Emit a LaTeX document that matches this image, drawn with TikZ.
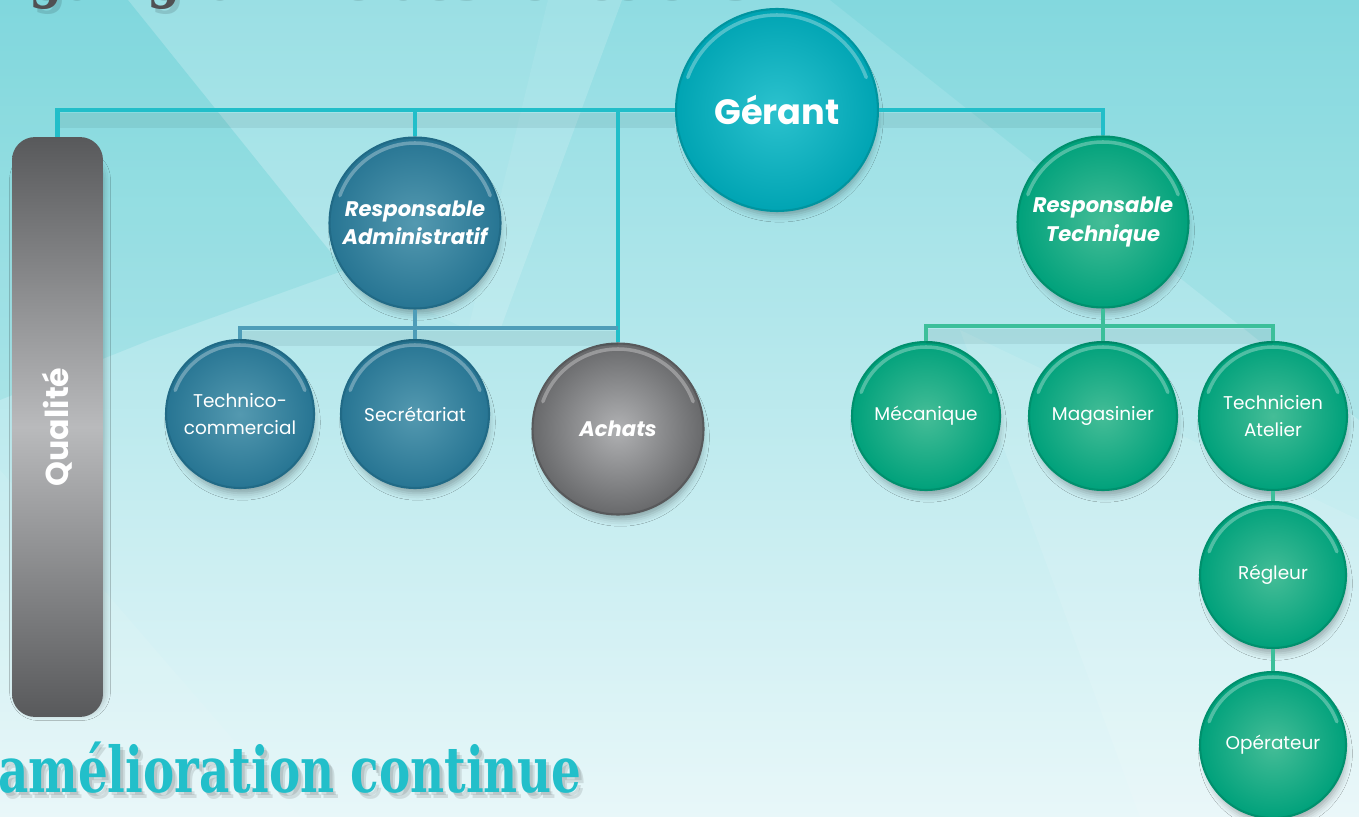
\documentclass[tikz,border=0pt]{standalone}
\usepackage{fontspec}
\setmainfont{Poppins}
\newfontfamily\slabfont{DejaVu Serif}
\usetikzlibrary{shadows.blur,calc}

\definecolor{bgtop}{HTML}{8FDCE2}
\definecolor{bgbot}{HTML}{E8F7F9}
\definecolor{busCyan}{HTML}{22BEC9}
\definecolor{busBlue}{HTML}{4E9DB8}
\definecolor{busGreen}{HTML}{3CBF9A}
\definecolor{gerIn}{HTML}{2CC2CE}
\definecolor{gerOut}{HTML}{00A4B3}
\definecolor{gerRim}{HTML}{00949F}
\definecolor{admIn}{HTML}{5499B0}
\definecolor{admOut}{HTML}{277593}
\definecolor{admRim}{HTML}{216A86}
\definecolor{grnIn}{HTML}{45BD97}
\definecolor{grnOut}{HTML}{00A17B}
\definecolor{grnRim}{HTML}{00906D}
\definecolor{gryIn}{HTML}{B0B1B3}
\definecolor{gryOut}{HTML}{68696B}
\definecolor{gryRim}{HTML}{58595B}
\definecolor{barDark}{HTML}{58595B}
\definecolor{barLight}{HTML}{B9BABC}
\definecolor{slabCyan}{HTML}{22BFCA}
\definecolor{titleGray}{HTML}{505153}

\tikzset{
  dropshade/.style={blur shadow={shadow xshift=1.5pt, shadow yshift=-5pt,
      shadow scale=0.96, shadow blur radius=4pt, shadow opacity=30}},
  bubble/.style n args={3}{circle, inner sep=0pt, align=center, text=white,
    draw=#1, line width=1.2pt, shading=radial, inner color=#2, outer color=#3,
    dropshade},
  gerbubble/.style={bubble={gerRim}{gerIn}{gerOut}, minimum size=4.04cm,
    font=\bfseries\fontsize{20}{24}\selectfont},
  headbubble/.style={bubble={#1Rim}{#1In}{#1Out}, minimum size=3.42cm,
    font=\bfseries\itshape\fontsize{12}{16}\selectfont},
  subbubble/.style={bubble={#1Rim}{#1In}{#1Out}, minimum size=2.96cm,
    font=\fontsize{10.5}{15}\selectfont},
  gloss/.style={draw=white, draw opacity=0.3, line width=2pt, line cap=round},
  topbus/.style={draw=busCyan, line width=2.8pt},
  admbus/.style={draw=busBlue, line width=2.8pt},
  grnbus/.style={draw=busGreen, line width=2.8pt},
  lineshade/.style={draw=black!70!teal, draw opacity=0.07, line width=9pt},
}
% thin shine along the upper rim of a bubble
\newcommand\shine[2]{\draw[gloss] ([shift={(160:#2)}]#1.center) arc[start angle=160,end angle=20,radius=#2];}

\begin{document}
\begin{tikzpicture}[x=0.02cm,y=-0.02cm]
  % canvas
  \useasboundingbox (0,0) rectangle (1359,817);
  \shade[top color=bgtop, bottom color=bgbot] (0,0) rectangle (1359,817);
  % soft light facets of the backdrop
  \fill[teal!60!cyan, opacity=0.10] (0,0) -- (128,0) -- (345,270) -- (150,340) -- (0,400) -- cycle;
  \fill[white, opacity=0.16] (548,0) -- (622,0) -- (500,330) -- (468,330) -- cycle;
  \fill[white, opacity=0.10] (128,0) -- (548,0) -- (468,330) -- (345,270) -- cycle;
  \fill[teal!60!cyan, opacity=0.08] (830,0) -- (1359,0) -- (1359,420) -- cycle;
  \fill[white, opacity=0.10] (960,330) -- (1359,520) -- (1359,817) -- (1140,817) -- cycle;
  \fill[white, opacity=0.08] (0,470) -- (300,817) -- (0,817) -- cycle;

  % heading, mostly above the canvas
  \begin{scope}
    \clip (0,0) rectangle (1359,40);
    \node[anchor=base west, inner sep=0pt, text=black, opacity=0.12] at (-34,1)
      {\slabfont\bfseries\fontsize{36}{40}\selectfont\scalebox{0.76}[1]{Organigramme des fonctions}};
    \node[anchor=base west, inner sep=0pt, text=titleGray] at (-38,-4)
      {\slabfont\bfseries\fontsize{36}{40}\selectfont\scalebox{0.76}[1]{Organigramme des fonctions}};
  \end{scope}

  % quality bar
  \node[rounded corners=0.46cm, minimum width=1.82cm, minimum height=11.6cm,
        top color=barDark, bottom color=barDark, middle color=barLight, dropshade,
        text=white, font=\bfseries\fontsize{18}{20}\selectfont] (qual) at (57.5,427)
        {\rotatebox{90}{Qualité}};

  % bubbles
  \node[gerbubble] (ger) at (777,110) {Gérant};
  \node[headbubble=adm] (adm) at (415,223) {Responsable\\Administratif};
  \node[headbubble=grn] (tech) at (1103,222) {Responsable\\Technique};
  \node[subbubble=adm] (tc) at (240,414) {Technico-\\commercial};
  \node[subbubble=adm] (sec) at (415,414) {Secrétariat};
  \node[headbubble=gry] (ach) at (618,429) {Achats};
  \node[subbubble=grn] (meca) at (926,416) {Mécanique};
  \node[subbubble=grn] (mag) at (1103,416) {Magasinier};
  \node[subbubble=grn] (tat) at (1273,416) {Technicien\\Atelier};
  \node[subbubble=grn, minimum size=2.92cm] (reg) at (1273,575) {Régleur};
  \node[subbubble=grn, minimum size=2.92cm] (ope) at (1273,745) {Opérateur};

  \coordinate (abus) at (415,328);
  \coordinate (tbus) at (1103,326);

  % shadows under the buses
  \draw[lineshade] ([yshift=-6pt]qual.north |- ger.west) -- ([yshift=-6pt]ger.west);
  \draw[lineshade] ([yshift=-6pt]ger.east) -- ([yshift=-6pt]ger.east -| tech.north);
  \draw[lineshade] ([yshift=-6pt]tc.north |- abus) -- ([yshift=-6pt]ach.north |- abus);
  \draw[lineshade] ([yshift=-6pt]meca.north |- tbus) -- ([yshift=-6pt]tat.north |- tbus);

  % connectors
  \draw[topbus] (qual.north) |- (ger.west);
  \draw[topbus] (adm.north) -- (adm.north |- ger.west);
  \draw[topbus] (ach.north) -- (ach.north |- ger.west);
  \draw[topbus] (ger.east) -| (tech.north);
  \draw[admbus] (tc.north) |- (ach.north |- abus);
  \draw[admbus] (adm.south) -- (sec.north);
  \draw[grnbus] (meca.north) |- (tbus) -| (tat.north);
  \draw[grnbus] (tech.south) -- (mag.north);
  \draw[grnbus] (tat.south) -- (reg.north);
  \draw[grnbus] (reg.south) -- (ope.north);

  % rim shine
  \shine{ger}{1.9cm}
  \shine{adm}{1.6cm}
  \shine{tech}{1.6cm}
  \shine{ach}{1.6cm}
  \shine{tc}{1.38cm}
  \shine{sec}{1.38cm}
  \shine{meca}{1.38cm}
  \shine{mag}{1.38cm}
  \shine{tat}{1.38cm}
  \shine{reg}{1.36cm}
  \shine{ope}{1.36cm}

  % slogan
  \node[anchor=base west, inner sep=0pt, text=black, opacity=0.10] (slogsh) at (3,798)
    {\slabfont\bfseries\fontsize{36}{40}\selectfont\scalebox{0.74}[1]{amélioration continue}};
  \node[anchor=base west, inner sep=0pt, text=black, opacity=0.10] (slogsh2) at (1,795)
    {\slabfont\bfseries\fontsize{36}{40}\selectfont\scalebox{0.74}[1]{amélioration continue}};
  \node[anchor=base west, inner sep=0pt, text=slabCyan] (slog) at (-2,792)
    {\slabfont\bfseries\fontsize{36}{40}\selectfont\scalebox{0.74}[1]{amélioration continue}};
\end{tikzpicture}
\end{document}
